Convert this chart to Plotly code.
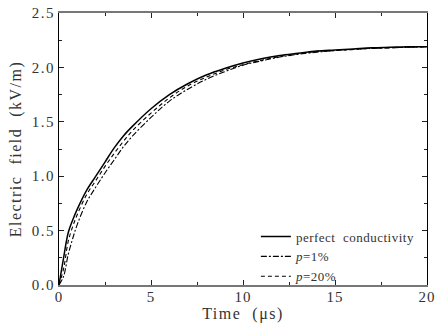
import plotly.graph_objects as go

# Time axis (microseconds)
time_us = [0, 0.25, 0.5, 0.75, 1, 1.5, 2, 2.5, 3, 3.5, 4, 5, 6, 7, 8, 9, 10,
           11, 12, 13, 14, 15, 16, 17, 18, 19, 20]

# Electric field (kV/m) for each ground model
e_perfect = [0, 0.25, 0.48, 0.60, 0.70, 0.87, 1.00, 1.13, 1.26, 1.37, 1.46,
             1.62, 1.75, 1.85, 1.93, 1.99, 2.04, 2.08, 2.11, 2.13, 2.15,
             2.16, 2.17, 2.18, 2.185, 2.19, 2.19]
e_p1 = [0, 0.08, 0.28, 0.43, 0.56, 0.76, 0.90, 1.03, 1.15, 1.27, 1.37,
        1.54, 1.69, 1.80, 1.89, 1.96, 2.02, 2.06, 2.095, 2.12, 2.14,
        2.155, 2.165, 2.175, 2.18, 2.185, 2.19]
e_p20 = [0, 0.15, 0.40, 0.54, 0.65, 0.83, 0.96, 1.09, 1.21, 1.32, 1.42,
         1.58, 1.72, 1.83, 1.91, 1.975, 2.025, 2.065, 2.10, 2.125, 2.145,
         2.155, 2.165, 2.175, 2.18, 2.185, 2.19]

# Tick positions
x_ticks = [0, 5, 10, 15, 20]
y_ticks = [0.0, 0.5, 1.0, 1.5, 2.0, 2.5]

FONT = "Liberation Serif, Times New Roman, serif"
INK = "#333"


def loose(text, px=1.5):
    return f'<span style="letter-spacing:{px}px">{text}</span>'


series_names = [loose("perfect  conductivity", 0.5),
                loose("<i>p</i>=1%", 0.5),
                loose("<i>p</i>=20%", 0.5)]

fig = go.Figure()
fig.add_trace(go.Scatter(x=time_us, y=e_perfect, mode="lines", name=series_names[0],
                         line=dict(color="black", width=1.5, shape="spline")))
fig.add_trace(go.Scatter(x=time_us, y=e_p1, mode="lines", name=series_names[1],
                         line=dict(color="black", width=1.1, dash="6px,2px,2px,2px",
                                   shape="spline")))
fig.add_trace(go.Scatter(x=time_us, y=e_p20, mode="lines", name=series_names[2],
                         line=dict(color="black", width=1.1, dash="4px,3px",
                                   shape="spline")))

fig.update_layout(
    width=445, height=328,
    margin=dict(l=59, r=18, t=13, b=43, autoexpand=False),
    paper_bgcolor="white", plot_bgcolor="white",
    font=dict(family=FONT, size=13, color=INK),
    showlegend=True,
    legend=dict(x=0.535, y=-0.024, xanchor="left", yanchor="bottom",
                bgcolor="rgba(0,0,0,0)", borderwidth=0,
                font=dict(family=FONT, size=13, color=INK),
                tracegroupgap=0, itemwidth=30),
)

fig.update_xaxes(
    range=[0, 20], tickvals=x_ticks, ticktext=[loose(str(v), 1) for v in x_ticks],
    showgrid=False, zeroline=False,
    showline=True, linecolor="#777", linewidth=2, mirror="allticks",
    ticks="inside", ticklen=5, tickcolor="#222", tickwidth=1,
    ticklabelstandoff=-3,
    minor=dict(dtick=2.5, tick0=0, ticks="inside", ticklen=3, tickcolor="#222"),
    title=dict(text=loose("Time  (μs)", 1.5),
               font=dict(family=FONT, size=16, color=INK), standoff=0),
    tickfont=dict(family=FONT, size=15, color=INK),
)
fig.update_yaxes(
    range=[0, 2.5], tickvals=y_ticks,
    ticktext=[loose(f"{v:.1f}", 1.5) for v in y_ticks],
    showgrid=False, zeroline=False,
    showline=True, linecolor="black", linewidth=1, mirror="allticks",
    ticks="inside", ticklen=5, tickcolor="#222", tickwidth=1,
    minor=dict(dtick=0.25, tick0=0, ticks="inside", ticklen=3, tickcolor="#222"),
    title=dict(text=loose("Electric  field  (kV/m)", 1.5),
               font=dict(family=FONT, size=16, color=INK), standoff=6),
    tickfont=dict(family=FONT, size=15, color=INK),
)

fig.write_html("out.html")
